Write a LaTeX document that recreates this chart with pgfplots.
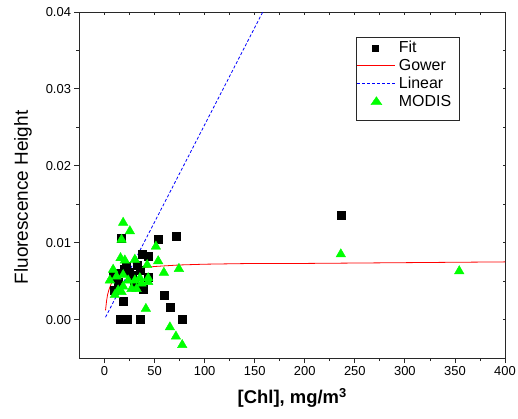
\documentclass[border=0pt]{standalone}
\usepackage{pgfplots}
\pgfplotsset{compat=1.18}
\usepackage{fontspec}
\setmainfont{Liberation Sans}
\definecolor{axgray}{RGB}{40,40,40}
\definecolor{modisgreen}{RGB}{0,255,0}
\definecolor{gowerred}{RGB}{255,0,0}
\definecolor{linblue}{RGB}{0,0,255}
\begin{document}
\begin{tikzpicture}
\path[use as bounding box] (-79.5bp,-61bp) rectangle (438.5bp,358bp);
\begin{axis}[
  at={(0,0)}, anchor=south west,
  scale only axis, width=425.5bp, height=346bp,
  xmin=-25, xmax=400, ymin=-0.005, ymax=0.04,
  xtick={0,50,...,400}, ytick={0,0.01,0.02,0.03,0.04},
  minor x tick num=1, minor y tick num=1,
  xtick pos=left, ytick pos=left, tick align=outside,
  major tick length=5bp, minor tick length=3bp,
  axis line style={axgray, line width=1bp},
  every tick/.style={axgray, line width=0.8bp},
  /pgf/number format/assume math mode=true,
  tick label style={font=\fontsize{13}{15}\selectfont},
  yticklabel style={/pgf/number format/fixed, /pgf/number format/fixed zerofill, /pgf/number format/precision=2},
  scaled y ticks=false,
  xlabel={\textbf{[Chl], mg/m\textsuperscript{3}}},
  ylabel={Fluorescence Height},
  xlabel style={font=\fontsize{18.5}{20}\selectfont, at={(axis description cs:0.5,-0.1156)}, anchor=center},
  ylabel style={font=\fontsize{19}{21}\selectfont, at={(axis description cs:-0.1328,0.464)}, anchor=center},
  clip=true,
  legend style={at={(axis description cs:0.6515,0.922)}, anchor=north west,
    draw=none, fill=none, inner xsep=0pt, inner ysep=0pt,
    font=\fontsize{16}{18}\selectfont, row sep=1bp,
    nodes={inner xsep=3bp, inner ysep=2bp}},
  legend cell align=left,
  after end axis/.code={
    \draw[axgray, line width=0.8bp] (axis description cs:0.6515,0.927) rectangle (axis description cs:0.894,0.686);
  },
]
% Fit
\addplot[only marks, mark=square*, mark size=4bp, black, forget plot] coordinates {
(17,0.0106) (53.6,0.0104) (71.3,0.0108) (38,0.0085) (43.5,0.0083)
(33,0.0071) (9,0.0056) (44,0.0055) (38.6,0.0040) (10,0.0038)
(18.6,0.0024) (59.3,0.0032) (65.3,0.0016) (15.3,0) (22.6,0) (35.3,0) (77.6,0)
(236,0.0136) (12,0.0060) (20,0.0065) (25,0.0062) (28,0.0058) (30,0.0045) (14,0.0048)
(22,0.0070) (36,0.0064)
};
% Gower
\addplot[draw=gowerred, line width=0.8bp, mark=none, forget plot] coordinates {
(1,0.0012) (1.5,0.0018) (2,0.0024) (3,0.0032) (4,0.0037) (5,0.0041) (6.5,0.0046) (8,0.0050) (10,0.0053) (12,0.0056) (15,0.0059) (18,0.0061)
(21,0.0063) (25,0.0064) (30,0.0066) (35,0.0067) (42,0.0068) (50,0.0069) (62,0.0070) (75,0.0071) (100,0.0072) (150,0.0073)
(200,0.0073) (300,0.0074) (400,0.0075)
};
% Linear
\addplot[draw=linblue, line width=0.8bp, dash pattern=on 3bp off 2bp, mark=none, forget plot] coordinates {
(1,0.0003) (160,0.0405)
};
% MODIS
\addplot[only marks, mark=triangle*, mark size=5.5bp, modisgreen, forget plot] coordinates {
(18.6,0.0126) (25.3,0.0115) (17,0.0104) (51.3,0.0095) (16,0.0080) (53.6,0.0076)
(30.3,0.0078) (42.6,0.0071) (8.6,0.0065) (59.3,0.0061) (74.3,0.0066)
(20.3,0.0077) (12,0.0056) (18.6,0.0058) (23.6,0.0051) (30.3,0.0051) (35.3,0.0054)
(43.6,0.0054) (43.6,0.0049) (18.6,0.0043) (27,0.0040) (32,0.0040) (13.6,0.0038)
(10.3,0.0032) (17,0.0036) (37,0.0047) (5.3,0.0051)
(41.3,0.0014) (65.3,-0.0010) (71.3,-0.0022) (77.6,-0.0033)
(236,0.0085) (354.3,0.0063)
};
\addlegendimage{legend image code/.code={\fill[black] (15bp,-3bp) rectangle (21bp,3bp); \path[draw=none] (0bp,0bp) -- (38bp,0bp);}}
\addlegendentry{Fit}
\addlegendimage{legend image code/.code={\draw[draw=gowerred, line width=1bp] (0bp,0bp) -- (38bp,0bp);}}
\addlegendentry{Gower}
\addlegendimage{legend image code/.code={\draw[draw=linblue, line width=1bp, dash pattern=on 3bp off 2bp] (0bp,0bp) -- (38bp,0bp);}}
\addlegendentry{Linear}
\addlegendimage{legend image code/.code={\fill[modisgreen] (13.5bp,-3.5bp) -- (24.5bp,-3.5bp) -- (19bp,4.5bp) -- cycle; \path[draw=none] (0bp,0bp) -- (38bp,0bp);}}
\addlegendentry{MODIS}
\end{axis}
\begin{axis}[
  at={(0,0)}, anchor=south west,
  scale only axis, width=425.5bp, height=346bp,
  xmin=-25, xmax=400, ymin=-0.005, ymax=0.04,
  xtick={0,50,...,400}, ytick={0,0.01,0.02,0.03,0.04},
  minor x tick num=1, minor y tick num=1,
  xtick pos=right, ytick pos=right, tick align=inside,
  major tick length=2.5bp, minor tick length=2.5bp,
  xticklabels={}, yticklabels={},
  scaled x ticks=false, scaled y ticks=false,
  axis line style={draw=none},
  every tick/.style={axgray, line width=0.8bp},
]
\end{axis}
\end{tikzpicture}
\end{document}
